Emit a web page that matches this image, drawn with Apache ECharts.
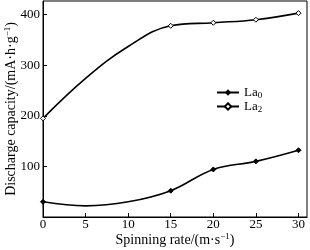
<!DOCTYPE html>
<html><head><meta charset="utf-8">
<script src="https://cdn.jsdelivr.net/npm/echarts@6/dist/echarts.min.js"></script>
<style>html,body{margin:0;padding:0;background:#fff}#c{width:310px;height:250px}</style>
</head><body><div id="c"></div>
<script>
var xValues = [0, 5, 10, 15, 20, 25, 30];
var la0 = [30, 22, 30, 52, 94, 110, 132];
var la2 = [195, 274, 337, 378, 384, 390, 403];
var markerShown = [true, false, false, true, true, true, true];
var xTicks = [0, 5, 10, 15, 20, 25, 30];
var yTicks = [100, 200, 300, 400];

function pairs(vals) {
  return xValues.map(function (x, i) {
    return { value: [x, vals[i]], symbolSize: markerShown[i] ? 5 : 0 };
  });
}
var font = 'Liberation Serif';
var chart = echarts.init(document.getElementById('c'), null, { renderer: 'canvas' });
chart.setOption({
  animation: false,
  backgroundColor: '#fff',
  textStyle: { fontFamily: font, color: '#000' },
  grid: { left: 43, right: 3, top: 1, bottom: 33, show: true, borderColor: '#000', borderWidth: 1,
    containLabel: false, outerBoundsMode: 'none' },
  legend: {
    orient: 'vertical', left: 211, top: 81, itemGap: 0, itemWidth: 22, itemHeight: 8,
    textStyle: { fontFamily: font, fontSize: 13, color: '#000',
      rich: { s: { fontFamily: font, fontSize: 9, padding: [6, 0, 0, 0], color: '#000' } } },
    formatter: function (n) { return n === 'La0' ? 'La{s|0}' : 'La{s|2}'; },
    data: ['La0', 'La2']
  },
  xAxis: {
    type: 'value', min: 0, max: 31, interval: 5,
    name: 'Spinning rate/(m·s{sup|−1})', nameLocation: 'middle', nameGap: 15, nameMoveOverlap: false,
    nameTextStyle: { fontFamily: font, fontSize: 14, color: '#000',
      rich: { sup: { fontFamily: font, fontSize: 9, padding: [0, 0, 7, 0], color: '#000' } } },
    axisLine: { show: true, lineStyle: { color: '#000', width: 1 } },
    axisTick: { show: true, inside: true, length: 4, lineStyle: { color: '#000' } },
    axisLabel: { fontFamily: font, fontSize: 13, color: '#000', margin: 1, showMaxLabel: false,
      formatter: function (v) { return xTicks.indexOf(v) >= 0 ? String(v) : ''; } },
    splitLine: { show: false }
  },
  yAxis: {
    type: 'value', min: 0, max: 427, interval: 100,
    name: 'Discharge capacity/(mA·h·g{sup|−1})', nameLocation: 'middle', nameGap: 24, nameMoveOverlap: false,
    nameTextStyle: { fontFamily: font, fontSize: 14, color: '#000',
      rich: { sup: { fontFamily: font, fontSize: 9, padding: [0, 0, 7, 0], color: '#000' } } },
    axisLine: { show: true, lineStyle: { color: '#000', width: 1 } },
    axisTick: { show: true, inside: true, length: 4, lineStyle: { color: '#000' } },
    axisLabel: { fontFamily: font, fontSize: 13, color: '#000', margin: 3, showMaxLabel: false,
      formatter: function (v) { return yTicks.indexOf(v) >= 0 ? String(v) : ''; } },
    splitLine: { show: false }
  },
  series: [
    { name: 'La0', type: 'line', smooth: 0.4, data: pairs(la0), symbol: 'diamond', showAllSymbol: true,
      lineStyle: { color: '#000', width: 1.6, type: 'solid' }, itemStyle: { color: '#000', borderColor: '#000' } },
    { name: 'La2', type: 'line', smooth: 0.4, data: pairs(la2), symbol: 'diamond', showAllSymbol: true,
      lineStyle: { color: '#000', width: 1.6, type: 'solid' }, itemStyle: { color: '#fff', borderColor: '#000', borderWidth: 1, borderType: 'solid' } }
  ]
});
</script></body></html>
